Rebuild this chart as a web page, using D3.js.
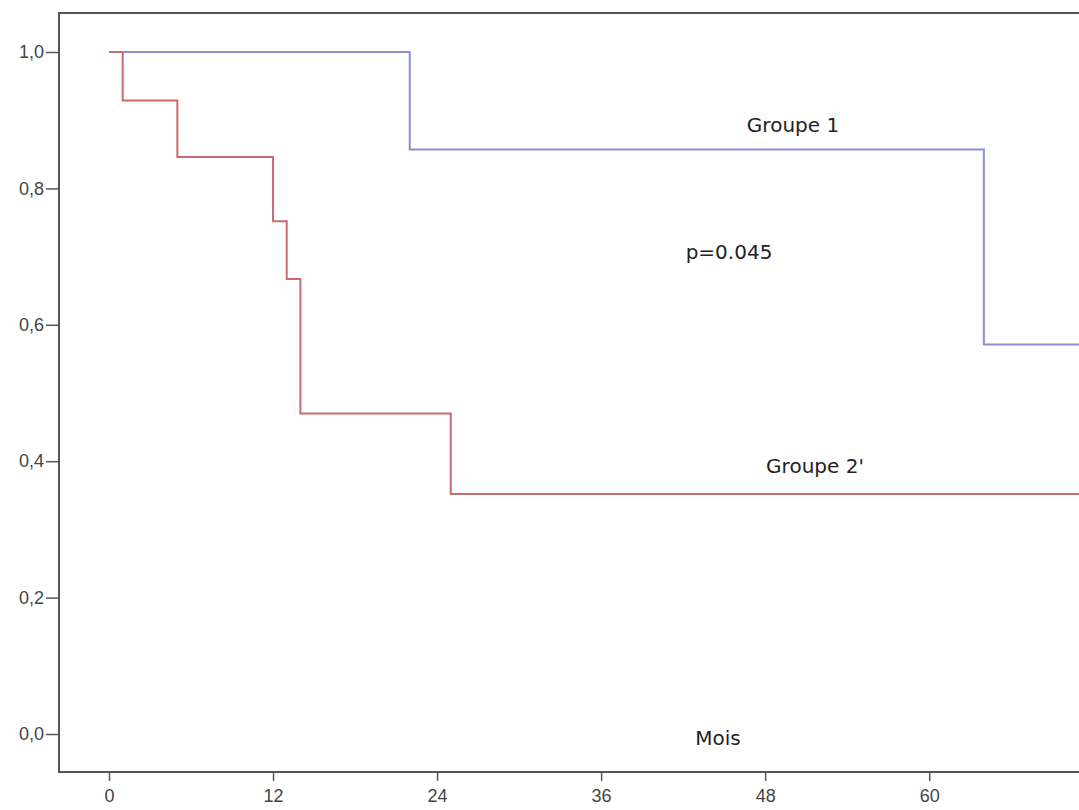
<!DOCTYPE html>
<html>
<head>
<meta charset="utf-8">
<script src="https://cdn.jsdelivr.net/npm/d3@7"></script>
<style>
  body { margin: 0; background: #fff; }
  svg { display: block; font-family: "DejaVu Sans", "Open Sans", sans-serif; }
</style>
</head>
<body>
<svg id="chart"></svg>
<script>
// survival data (months, cumulative survival)
const group1Months = [0, 22, 64, 72];
const group1Surv = [1.0, 0.857, 0.571, 0.571];
const group2Months = [0, 1, 5, 12, 13, 14, 25, 72];
const group2Surv = [1.0, 0.929, 0.846, 0.752, 0.667, 0.47, 0.352, 0.352];

const xTicks = [0, 12, 24, 36, 48, 60];
const yTicks = [0, 0.2, 0.4, 0.6, 0.8, 1.0];

// layout constants
const w = 1079;
const h = 810;
const frame = { left: 59, top: 13, right: 1100, bottom: 772 };

const xScale = d3.scaleLinear()
  .domain([0, 72])
  .range([109, 109 + 72 * 13.67]);

const yScale = d3.scaleLinear()
  .domain([0, 1])
  .range([734, 52]);

const svg = d3.select("#chart")
  .attr("width", w)
  .attr("height", h);

// plot frame
svg.append("rect")
  .attr("x", frame.left)
  .attr("y", frame.top)
  .attr("width", frame.right - frame.left)
  .attr("height", frame.bottom - frame.top)
  .attr("fill", "none")
  .attr("stroke", "#555")
  .attr("stroke-width", 2);

// y axis
const yAxis = d3.axisLeft(yScale)
  .tickValues(yTicks)
  .tickSize(13)
  .tickPadding(2)
  .tickFormat(d => d3.format(".1f")(d).replace(".", ","));

svg.append("g")
  .attr("transform", `translate(${frame.left},0)`)
  .call(yAxis)
  .call(g => g.select(".domain").remove())
  .call(g => g.selectAll("line").attr("stroke", "#555").attr("stroke-width", 1.5))
  .call(g => g.selectAll("text").attr("fill", "#444").style("font-size", "18px"));

// x axis
const xAxis = d3.axisBottom(xScale)
  .tickValues(xTicks)
  .tickSize(9)
  .tickPadding(8);

svg.append("g")
  .attr("transform", `translate(0,${frame.bottom})`)
  .call(xAxis)
  .call(g => g.select(".domain").remove())
  .call(g => g.selectAll("line").attr("stroke", "#555").attr("stroke-width", 1.5))
  .call(g => g.selectAll("text").attr("fill", "#444").style("font-size", "18px"));

// step lines
const line = d3.line()
  .x(d => xScale(d[0]))
  .y(d => yScale(d[1]))
  .curve(d3.curveStepAfter);

svg.append("path")
  .datum(d3.zip(group1Months, group1Surv))
  .attr("d", line)
  .attr("fill", "none")
  .attr("stroke", "#8e8ed6")
  .attr("stroke-width", 2);

svg.append("path")
  .datum(d3.zip(group2Months, group2Surv))
  .attr("d", line)
  .attr("fill", "none")
  .attr("stroke", "#c96a6e")
  .attr("stroke-width", 2);

// annotations
const labels = [
  { text: "Groupe 1", x: 793, y: 132 },
  { text: "p=0.045", x: 729, y: 259 },
  { text: "Groupe 2'", x: 815, y: 473 },
  { text: "Mois", x: 718, y: 745 }
];

svg.selectAll("text.note")
  .data(labels)
  .enter()
  .append("text")
  .attr("class", "note")
  .attr("x", d => d.x)
  .attr("y", d => d.y)
  .attr("text-anchor", "middle")
  .attr("fill", "#222")
  .style("font-size", "20px")
  .text(d => d.text);
</script>
</body>
</html>
